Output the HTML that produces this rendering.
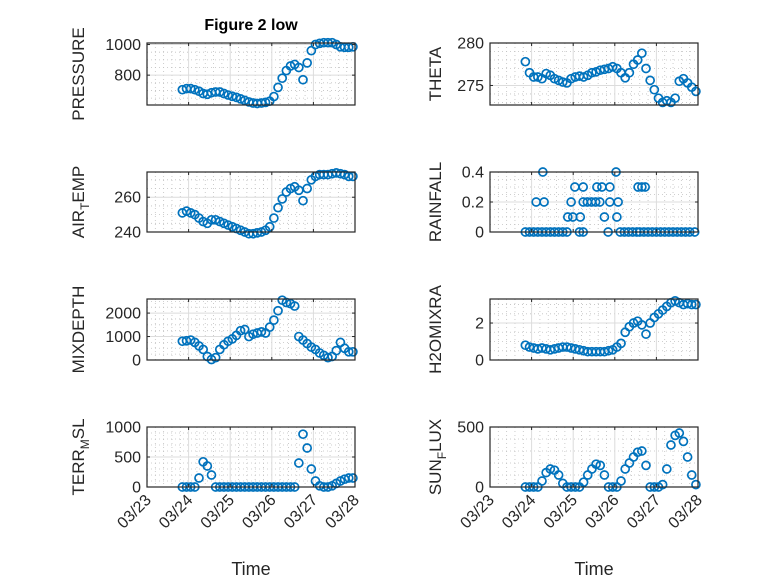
<!DOCTYPE html>
<html><head><meta charset="utf-8"><style>
html,body{margin:0;padding:0;background:#fff;}
svg{display:block;font-family:"Liberation Sans",sans-serif;}
</style></head><body>
<svg id="fig" width="778" height="583" viewBox="0 0 778 583" xmlns="http://www.w3.org/2000/svg">
<rect x="0" y="0" width="778" height="583" fill="#fff"/>
<text x="251" y="30" text-anchor="middle" font-size="16" font-weight="bold" fill="#000">Figure 2 low</text>
</svg>
<script>
const times = [0.85,0.95,1.05,1.15,1.25,1.35,1.45,1.55,1.65,1.75,1.85,1.95,2.05,2.15,2.25,2.35,2.45,2.55,2.65,2.75,2.85,2.95,3.05,3.15,3.25,3.35,3.45,3.55,3.65,3.75,3.85,3.95,4.05,4.15,4.25,4.35,4.45,4.55,4.65,4.75,4.85,4.95];
const xTickLabels = ["03/23","03/24","03/25","03/26","03/27","03/28"];
const pressure = [705,712,712,705,695,680,675,685,690,690,680,670,662,655,645,635,625,618,615,618,622,630,660,720,780,830,860,870,850,770,880,960,1000,1008,1012,1012,1012,1000,985,982,982,985];
const airTemp = [251,252,251,250,248,246,245,247,247,246,245,244,243,242,241,240,239,239,239.5,240,241,243,248,254,259,263,265,266,264,258,265,270,272,273,273,273,273.5,274,273.5,273,272,272];
const mixDepth = [800,820,850,750,600,450,150,20,100,450,650,800,900,1050,1250,1300,1000,1100,1150,1200,1150,1400,1700,2100,2550,2450,2400,2300,1000,850,700,550,450,300,200,100,150,400,750,500,350,350];
const terrMsl = [0,0,0,0,150,420,350,200,0,0,0,0,0,0,0,0,0,0,0,0,0,0,0,0,0,0,0,0,400,880,650,300,100,20,0,0,20,60,100,130,150,150];
const theta = [277.8,276.5,276,276,275.8,276.4,276.2,275.8,275.6,275.4,275.3,275.8,276,276.1,276,276.2,276.5,276.6,276.8,276.9,277,277.2,277,276.5,275.9,276.5,277.5,278,278.8,277,275.6,274.5,273.5,273,273.2,273,273.5,275.5,275.8,275.3,274.8,274.3];
const rainT = [0.85,0.95,1.05,1.15,1.25,1.35,1.45,1.55,1.65,1.75,1.85,2.15,2.24,2.84,3.13,3.23,3.33,3.43,3.53,3.6,3.7,3.8,3.9,4.0,4.1,4.2,4.3,4.4,4.5,4.6,4.7,4.8,4.92,1.27,3.03,2.04,2.24,2.57,2.69,2.88,3.56,3.65,3.73,1.11,1.3,1.95,2.24,2.34,2.44,2.54,2.64,2.88,3.08,1.87,1.99,2.17,2.75,3.05];
const rainV = [0,0,0,0,0,0,0,0,0,0,0,0,0,0,0,0,0,0,0,0,0,0,0,0,0,0,0,0,0,0,0,0,0,0.4,0.4,0.3,0.3,0.3,0.3,0.3,0.3,0.3,0.3,0.2,0.2,0.2,0.2,0.2,0.2,0.2,0.2,0.2,0.2,0.1,0.1,0.1,0.1,0.1];
const h2o = [0.8,0.7,0.65,0.6,0.65,0.6,0.55,0.6,0.65,0.7,0.7,0.65,0.6,0.55,0.5,0.45,0.45,0.45,0.45,0.45,0.5,0.55,0.7,0.9,1.5,1.8,2.0,2.1,1.9,1.4,2.0,2.3,2.5,2.7,2.9,3.1,3.2,3.1,3.0,3.05,3.0,3.0];
const sunFlux = [0,0,0,0,50,120,150,140,100,30,0,0,0,0,40,100,150,190,180,100,0,0,0,50,150,200,250,290,300,180,0,0,0,20,150,350,430,450,380,250,100,20];
const pressureTicks = [800,1000];
const airTempTicks = [240,260];
const mixTicks = [0,1000,2000];
const terrTicks = [0,500,1000];
const thetaTicks = [275,280];
const rainTicks = [0,0.2,0.4];
const h2oTicks = [0,2];
const sunTicks = [0,500];

const NS="http://www.w3.org/2000/svg";
const svg=document.getElementById('fig');
function mk(tag,attrs,parent){const e=document.createElementNS(NS,tag);for(const k in attrs)e.setAttribute(k,attrs[k]);(parent||svg).appendChild(e);return e;}

function panel(cfg){
  const {x0,x1,y0,y1,ymin,ymax,ticks,minor,name,label,sub,labelX,tx,ty,tickFmt,showX}=cfg;
  const g=mk('g',{});
  
  
  const xs=d=>x0+(d/5)*(x1-x0);
  const ys=v=>y1-(v-ymin)/(ymax-ymin)*(y1-y0);
  for(let d=0.2;d<5;d+=0.2){ if(Math.abs(d-Math.round(d))<1e-6)continue; mk('line',{x1:xs(d),x2:xs(d),y1:y0,y2:y1,stroke:'#c0c0c0','stroke-width':0.8,'stroke-dasharray':'1 3'},g);}
  for(let v=Math.ceil(ymin/minor)*minor;v<=ymax+1e-9;v+=minor){ if(ticks.some(t=>Math.abs(t-v)<1e-9))continue; mk('line',{x1:x0,x2:x1,y1:ys(v),y2:ys(v),stroke:'#c0c0c0','stroke-width':0.8,'stroke-dasharray':'1 3'},g);}
  for(let d=1;d<5;d++) mk('line',{x1:xs(d),x2:xs(d),y1:y0,y2:y1,stroke:'#dcdcdc','stroke-width':1},g);
  ticks.forEach(t=>{ if(ys(t)>y0+0.5&&ys(t)<y1-0.5) mk('line',{x1:x0,x2:x1,y1:ys(t),y2:ys(t),stroke:'#dcdcdc','stroke-width':1},g);});
  for(let i=0;i<tx.length;i++){
    const c=mk('circle',{cx:xs(tx[i]),cy:ys(ty[i]),r:4,fill:'none',stroke:'#0072BD','stroke-width':1.7},g);
    
    
  }
  mk('rect',{x:x0,y:y0,width:x1-x0,height:y1-y0,fill:'none',stroke:'#262626','stroke-width':1.2},g);
  for(let d=0;d<=5;d++){mk('line',{x1:xs(d),x2:xs(d),y1:y1,y2:y1-3,stroke:'#262626'},g);mk('line',{x1:xs(d),x2:xs(d),y1:y0,y2:y0+3,stroke:'#262626'},g);}
  ticks.forEach(t=>{
    mk('line',{x1:x0,x2:x0+3,y1:ys(t),y2:ys(t),stroke:'#262626'},g);
    mk('line',{x1:x1,x2:x1-3,y1:ys(t),y2:ys(t),stroke:'#262626'},g);
    const tl=mk('text',{x:x0-6,y:ys(t)+5.5,'text-anchor':'end','font-size':16,fill:'#262626'},g);
    tl.textContent=tickFmt(t);
    
    
  });
  const cy=(y0+y1)/2;
  const yl=mk('text',{x:0,y:0,transform:`translate(${labelX},${cy}) rotate(-90)`,'text-anchor':'middle','font-size':17,fill:'#262626'},g);
  
  
  if(sub){
    const a=mk('tspan',{},yl);a.textContent=label[0];
    const b=mk('tspan',{'font-size':12,dy:5},yl);b.textContent=sub;
    const c=mk('tspan',{dy:-5},yl);c.textContent=label[1];
  } else yl.textContent=label;
  if(showX){
    xTickLabels.forEach((s,i)=>{
      const t=mk('text',{x:0,y:0,transform:`translate(${xs(i)+5},${y1+14}) rotate(-45)`,'text-anchor':'end','font-size':16,fill:'#262626'},g);
      t.textContent=s;
      
      
    });
    const tt=mk('text',{x:(x0+x1)/2,y:575,'text-anchor':'middle','font-size':18,fill:'#262626'},g);
    tt.textContent='Time';
    
    
  }
}
const L=[147,355],R=[490,698];
const rows=[[43,105],[172,232],[299,360],[427,487]];
const fmt=v=>String(v);
panel({x0:L[0],x1:L[1],y0:rows[0][0],y1:rows[0][1],ymin:605,ymax:1010,ticks:pressureTicks,minor:50,name:'pressure',label:'PRESSURE',labelX:84,tx:times,ty:pressure,tickFmt:fmt});
panel({x0:L[0],x1:L[1],y0:rows[1][0],y1:rows[1][1],ymin:240,ymax:274.5,ticks:airTempTicks,minor:5,name:'air-temp',label:['AIR','EMP'],sub:'T',labelX:84,tx:times,ty:airTemp,tickFmt:fmt});
panel({x0:L[0],x1:L[1],y0:rows[2][0],y1:rows[2][1],ymin:0,ymax:2600,ticks:mixTicks,minor:250,name:'mixdepth',label:'MIXDEPTH',labelX:84,tx:times,ty:mixDepth,tickFmt:fmt});
panel({x0:L[0],x1:L[1],y0:rows[3][0],y1:rows[3][1],ymin:0,ymax:1000,ticks:terrTicks,minor:100,name:'terr-msl',label:['TERR','SL'],sub:'M',labelX:84,tx:times,ty:terrMsl,tickFmt:fmt,showX:true});
panel({x0:R[0],x1:R[1],y0:rows[0][0],y1:rows[0][1],ymin:272.7,ymax:280,ticks:thetaTicks,minor:1,name:'theta',label:'THETA',labelX:441,tx:times,ty:theta,tickFmt:fmt});
panel({x0:R[0],x1:R[1],y0:rows[1][0],y1:rows[1][1],ymin:0,ymax:0.4,ticks:rainTicks,minor:0.05,name:'rainfall',label:'RAINFALL',labelX:441,tx:rainT,ty:rainV,tickFmt:fmt});
panel({x0:R[0],x1:R[1],y0:rows[2][0],y1:rows[2][1],ymin:0,ymax:3.3,ticks:h2oTicks,minor:0.5,name:'h2omixra',label:'H2OMIXRA',labelX:441,tx:times,ty:h2o,tickFmt:fmt});
panel({x0:R[0],x1:R[1],y0:rows[3][0],y1:rows[3][1],ymin:0,ymax:500,ticks:sunTicks,minor:100,name:'sun-flux',label:['SUN','LUX'],sub:'F',labelX:441,tx:times,ty:sunFlux,tickFmt:fmt,showX:true});
</script>
</body></html>
